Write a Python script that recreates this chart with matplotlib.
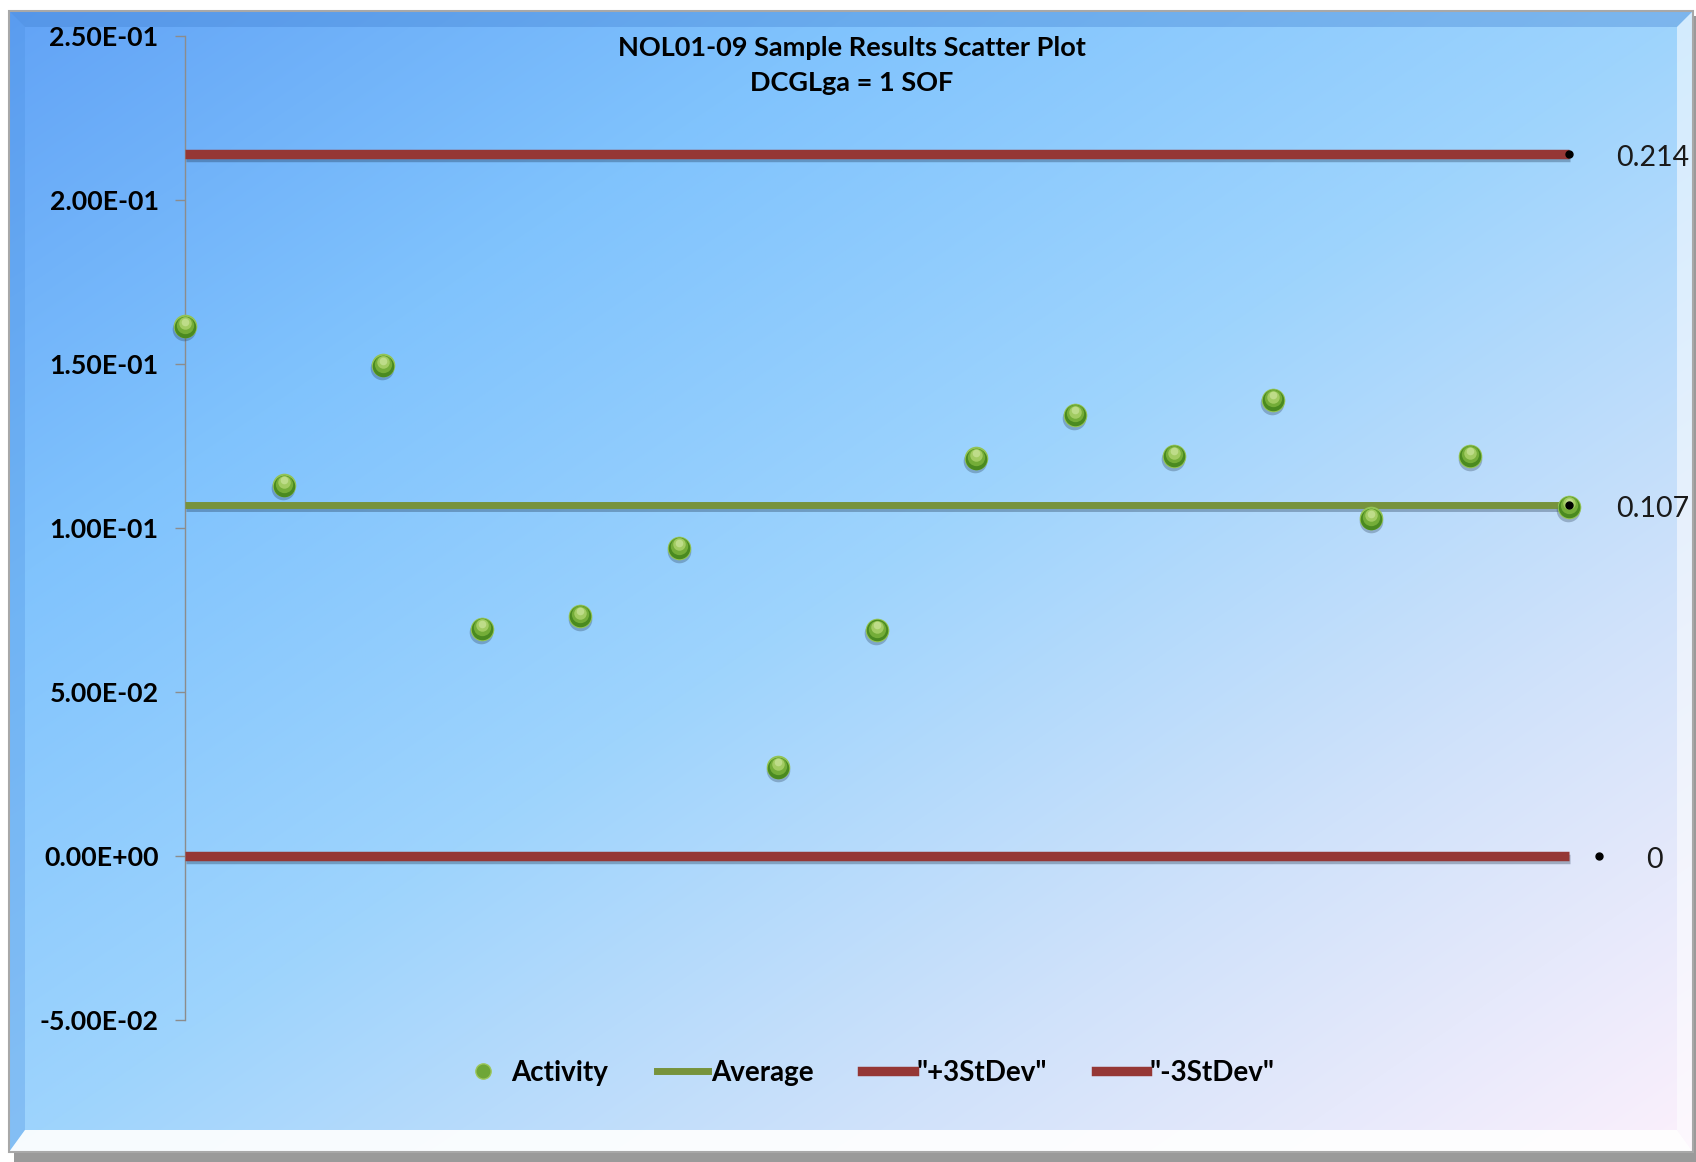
import numpy as np
import matplotlib.pyplot as plt
import matplotlib.patheffects as pe
from matplotlib.patches import Polygon, Rectangle
from matplotlib.lines import Line2D
from matplotlib.transforms import offset_copy

# sample results (SOF)
sample_no = np.arange(1, 16)
activity = [0.1614, 0.1130, 0.1495, 0.0692, 0.0731, 0.0939, 0.0270, 0.0688,
            0.1212, 0.1344, 0.1219, 0.1390, 0.1028, 0.1219, 0.1064]
average = 0.107
plus_3sd = 0.214
minus_3sd = 0.0
yticks = [-0.05, 0.0, 0.05, 0.10, 0.15, 0.20, 0.25]
end_labels = ["0.214", "0.107", "0"]

W, H = 1696, 1162
fig = plt.figure(figsize=(W / 100, H / 100), dpi=100)
fig.patch.set_facecolor("white")

# --- chart area background: diagonal blue -> pinkish gradient with bevel ---
bg = fig.add_axes([0, 0, 1, 1], zorder=-10)
bg.set_xlim(0, W)
bg.set_ylim(H, 0)
bg.axis("off")

x0, y0, x1, y1 = 9, 11, 1693, 1152
gx, gy = np.meshgrid(np.linspace(0, 1, 400), np.linspace(0, 1, 300))
t = 0.5 * gx + 0.5 * gy
stops = np.array([0.0, 0.25, 0.5, 0.75, 1.0])
cols = np.array([[ 98, 163, 246],
                 [128, 195, 253],
                 [158, 212, 253],
                 [208, 226, 250],
                 [252, 240, 252]]) / 255.0
img = np.dstack([np.interp(t, stops, cols[:, k]) for k in range(3)])
bg.imshow(img, extent=(x0, x1, y1, y0), aspect="auto", interpolation="bilinear")

# drop shadow along bottom and right
bg.add_patch(Rectangle((14, y1), W - 14, H - y1, color="#9a9a9a", lw=0))
bg.add_patch(Rectangle((x1, 16), W - x1, H - 16, color="#9a9a9a", lw=0))

b = 16
bg.add_patch(Polygon([(x0, y0), (x1, y0), (x1 - b, y0 + b), (x0 + b, y0 + b)],
                     color="#3f7fd0", alpha=0.35, lw=0))
bg.add_patch(Polygon([(x0, y0), (x0 + b, y0 + b), (x0 + b, y1 - 22), (x0, y1)],
                     color="#4a8fe0", alpha=0.3, lw=0))
bg.add_patch(Polygon([(x0, y1), (x1, y1), (x1 - b, y1 - 22), (x0 + b, y1 - 22)],
                     color="white", alpha=0.92, lw=0))
bg.add_patch(Polygon([(x1, y0), (x1, y1), (x1 - b, y1 - 22), (x1 - b, y0 + b)],
                     color="white", alpha=0.55, lw=0))
bg.add_patch(Rectangle((x0, y0), x1 - x0, y1 - y0, fill=False,
                       edgecolor="#a8a8a8", lw=1.5))

# --- plot area ---
ax = fig.add_axes([185 / W, 1 - 1019.5 / H, (1668 - 185) / W, (1019.5 - 35.7) / H])
ax.patch.set_alpha(0)
ax.set_xlim(1, 16)
ax.set_ylim(-0.05, 0.25)
for s in ["top", "right", "bottom"]:
    ax.spines[s].set_visible(False)
ax.spines["left"].set_color("#8c8c8c")
ax.spines["left"].set_linewidth(1.0)
ax.set_xticks([])
ax.set_yticks(yticks)
ax.set_yticklabels([f"{v:.2E}" for v in yticks])
ax.tick_params(axis="y", direction="out", length=7, width=1, color="#8c8c8c",
               pad=12, labelsize=19.3)
for lbl in ax.get_yticklabels():
    lbl.set_fontfamily("Lato")
    lbl.set_fontweight("bold")

shadow = [pe.SimpleLineShadow(offset=(0.5, -2.5), shadow_color="#10243d", alpha=0.3),
          pe.Normal()]
red = "#953735"
green = "#77933c"
ax.plot(sample_no, np.full(len(sample_no), plus_3sd), color=red, lw=6.8,
        solid_capstyle="butt", path_effects=shadow, zorder=3)
ax.plot(sample_no, np.full(len(sample_no), minus_3sd), color=red, lw=6.8,
        solid_capstyle="butt", path_effects=shadow, zorder=3)
ax.plot(sample_no, np.full(len(sample_no), average), color=green, lw=5,
        solid_capstyle="butt", path_effects=shadow, zorder=3)

# shaded green spheres for the activity results
def sphere(dx, dy, size, color, alpha=1.0, z=5):
    tr = offset_copy(ax.transData, fig=fig, x=dx, y=dy, units="points")
    ax.plot(sample_no, activity, "o", ms=size, color=color, mec="none",
            alpha=alpha, transform=tr, zorder=z, clip_on=False)

sphere(-0.5, -2.2, 17, "#1d2f45", 0.28, 4)
sphere(0, 0, 17, "#93c455", 1.0, 5)
sphere(0, -0.4, 15.5, "#4a8a20", 1.0, 5)
sphere(0, 1.0, 12.5, "#74ad38", 1.0, 5)
sphere(0, 2.3, 9, "#a2cb62", 1.0, 5)
sphere(0, 3.4, 5.5, "#c2df8e", 0.9, 5)

# end-point markers and value labels
ends = [(sample_no[-1], plus_3sd), (sample_no[-1], average), (sample_no[-1] + 0.3, minus_3sd)]
for (ex, ey), txt in zip(ends, end_labels):
    ax.plot(ex, ey, "o", ms=5, color="black", zorder=6, clip_on=False)
    ax.annotate(txt, (ex, ey), xytext=(34, -3), textcoords="offset points",
                ha="left", va="center", fontsize=20.5, family="Lato",
                color="#1a1a1a", annotation_clip=False)

fig.text(852 / W, 1 - 48 / H, "NOL01-09 Sample Results Scatter Plot",
         ha="center", va="center", fontsize=19.5, family="Lato", weight="bold")
fig.text(852 / W, 1 - 83 / H, "DCGLga = 1 SOF",
         ha="center", va="center", fontsize=19.5, family="Lato", weight="bold")

handles = [
    Line2D([], [], ls="none", marker="o", ms=11, color="#6ea636", mec="#9cc65a"),
    Line2D([], [], color=green, lw=5),
    Line2D([], [], color=red, lw=6.8),
    Line2D([], [], color=red, lw=6.8),
]
labels = ["Activity", "Average", '"+3StDev"', '"-3StDev"']
fig.legend(handles, labels, loc="center", bbox_to_anchor=(866 / W, 1 - 1073 / H),
           ncol=4, frameon=False, handlelength=1.85, handletextpad=0.1,
           columnspacing=1.75, prop={"family": "Lato", "weight": "bold", "size": 20})

fig.savefig("out.png", dpi=100)
